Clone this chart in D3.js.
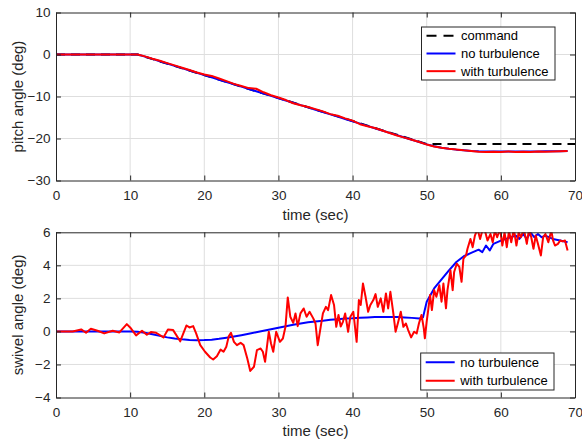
<!DOCTYPE html>
<html>
<head>
<meta charset="utf-8">
<script src="https://cdn.jsdelivr.net/npm/d3@7"></script>
<style>
  body { margin: 0; background: #fff; }
  svg { display: block; font-family: "Liberation Sans", Arial, sans-serif; }
  .axis text { font-size: 13.5px; fill: #262626; }
  .axis path, .axis line { stroke: #262626; }
  .grid line { stroke: #dedede; }
  .label { font-size: 15px; fill: #262626; }
  .legend text { font-size: 13px; fill: #000; }
</style>
</head>
<body>
<svg id="chart" width="582" height="442"></svg>
<script>
// tick labels
const timeTicks = [0, 10, 20, 30, 40, 50, 60, 70];
const pitchTicks = [-30, -20, -10, 0, 10];
const swivelTicks = [-4, -2, 0, 2, 4, 6];

// pitch angle (deg)
const commandTime = [0, 11, 50, 70];
const command = [0, 0, -21.3, -21.3];

const pitchTime = [0, 1, 2, 3, 4, 5, 6, 7, 8, 9, 10, 11, 12, 13, 14, 15, 16, 17, 18, 19,
  20, 21, 22, 23, 24, 25, 26, 27, 28, 29, 30, 31, 32, 33, 34, 35, 36, 37, 38, 39,
  40, 41, 42, 43, 44, 45, 46, 47, 48, 49, 50, 51, 52, 53, 54, 55, 56, 57, 58, 59,
  60, 61, 62, 63, 64, 65, 66, 67, 68, 69];
const pitchNoTurb = [0, 0, 0, 0, 0, 0, 0, 0, 0, 0, 0, 0,
  -0.5, -1.05, -1.6, -2.15, -2.7, -3.25, -3.8, -4.35, -4.9, -5.45, -6.0, -6.55, -7.1,
  -7.65, -8.2, -8.75, -9.3, -9.85, -10.4, -10.95, -11.5, -12.05, -12.6, -13.15, -13.7,
  -14.25, -14.8, -15.35, -15.9, -16.45, -17.0, -17.55, -18.1, -18.65, -19.2, -19.75,
  -20.3, -20.85, -21.4, -21.85, -22.2, -22.45, -22.65, -22.8, -22.95, -23.05, -23.1,
  -23.1, -23.1, -23.1, -23.1, -23.1, -23.1, -23.1, -23.05, -23.05, -23.05, -23.0];
const pitchTurb = [0, 0, 0, 0, 0, 0, 0, 0, 0, 0, 0, 0,
  -0.45, -1.0, -1.5, -2.05, -2.6, -3.15, -3.7, -4.3, -4.75, -5.1, -5.7, -6.35, -7.0,
  -7.5, -8.0, -8.15, -9.0, -9.7, -10.25, -10.85, -11.6, -12.1, -12.5, -13.0, -13.55,
  -14.2, -14.6, -15.2, -15.75, -16.6, -17.1, -17.5, -18.1, -18.7, -19.3, -19.8,
  -20.3, -20.85, -21.45, -21.9, -22.2, -22.45, -22.6, -22.8, -22.95, -23.15, -23.2,
  -23.15, -23.2, -23.1, -23.2, -23.15, -23.2, -23.1, -23.15, -23.1, -23.05, -23.0];

// swivel angle (deg)
const swivelNoTurbTime = [0, 5, 10, 11, 12, 13, 14, 15, 16, 17, 18, 19, 20, 21, 22, 23, 24,
  25, 26, 27, 28, 29, 30, 31, 32, 33, 34, 35, 36, 37, 38, 39, 40, 41, 42, 43, 44, 45,
  46, 47, 48, 49, 49.5, 50, 51, 52, 53, 54, 55, 56, 57, 57.5, 58, 58.5, 59, 60, 61,
  62, 62.5, 63, 63.5, 64, 64.5, 65, 65.5, 66, 67, 68, 69];
const swivelNoTurb = [0, 0, 0, -0.02, -0.08, -0.17, -0.27, -0.36, -0.43, -0.48, -0.52,
  -0.53, -0.52, -0.5, -0.45, -0.38, -0.31, -0.23, -0.14, -0.05, 0.04, 0.13, 0.22, 0.31,
  0.4, 0.48, 0.55, 0.6, 0.65, 0.7, 0.74, 0.78, 0.8, 0.83, 0.85, 0.87, 0.88, 0.88, 0.87,
  0.85, 0.82, 0.78, 0.85, 1.8, 2.6, 3.15, 3.7, 4.2, 4.55, 4.75, 4.95, 4.8, 5.2, 4.9,
  5.3, 5.5, 5.65, 5.8, 5.6, 5.9, 5.6, 6.0, 5.7, 5.9, 5.7, 5.8, 5.6, 5.5, 5.4];

const swivelTurbTime = [0, 1.35, 2.25, 3.4, 4.05, 4.7, 5.6, 6.5, 7.65, 8.55, 9.55, 10,
  10.8, 11.6, 12.25, 12.8, 13.5, 14.5, 15.1, 15.8, 16.75, 17.6, 18, 18.5, 18.9, 19.46,
  20.1, 20.8, 21.2, 21.7, 22.2, 22.6, 22.97, 23.3, 23.6, 24, 24.4, 24.9, 25.3, 25.8,
  26.2, 26.7, 27.1, 27.6, 27.9, 28.2, 28.7, 29, 29.3, 29.7, 30.2, 30.6, 30.95, 31.26,
  31.6, 32, 32.3, 32.6, 32.97, 33.4, 33.8, 34.2, 34.7, 35, 35.3, 35.7, 36, 36.4, 36.7,
  37.1, 37.5, 37.8, 38.1, 38.4, 38.7, 39, 39.4, 39.7, 40.1, 40.55, 40.85, 41.1, 41.4,
  41.75, 42.1, 42.4, 42.8, 43.1, 43.4, 43.8, 44.15, 44.5, 44.8, 45.1, 45.5, 45.8, 46.1,
  46.5, 46.85, 47.2, 47.5, 47.9, 48.3, 48.65, 48.95, 49.3, 49.6, 49.75, 49.99, 50.2,
  50.45, 50.7, 51, 51.3, 51.7, 52, 52.25, 52.6, 52.8, 53.2, 53.5, 53.7, 54.05, 54.4,
  54.7, 54.95, 55.3, 55.5, 55.9, 56.2, 56.5, 56.85, 57.2, 57.5, 57.85, 58.2, 58.6,
  58.9, 59.2, 59.5, 59.9, 60.2, 60.5, 60.8, 61.1, 61.4, 61.75, 62.1, 62.4, 62.7, 63.1,
  63.5, 63.8, 64.1, 64.4, 64.7, 65, 65.4, 65.7, 66, 66.4, 66.8, 67.05, 67.3, 67.7, 68,
  68.3, 68.65, 69];
const swivelTurb = [0, 0, 0, 0.12, -0.08, 0.16, 0.04, -0.12, 0.04, -0.06, 0.44, 0.24,
  -0.24, 0.04, -0.2, -0.04, -0.08, -0.36, 0.12, 0.08, -0.6, 0.36, 0.24, 0.32, -0.12,
  -0.83, -1.23, -1.58, -1.7, -1.5, -1.1, -1.23, -0.93, -0.3, -0.08, -0.63, -0.83, -0.69,
  -0.83, -1.64, -2.39, -2.14, -1.13, -1.03, -1.23, -1.84, -0.02, -0.73, -1.23, -0.02,
  -0.63, -0.43, 0.28, 2.06, 0.89, 0.52, 1.09, 0.32, 1.09, 1.39, 0.89, 1.19, 0.79, 0.48,
  -0.83, 0.28, 1.09, 1.49, 1.29, 2.2, 1.6, 0.28, 1.0, 0.3, 0.58, 1.09, -0.02, 0.89, 1.19,
  -0.63, 1.9, 1.6, 2.9, 2.1, 1.19, 1.6, 1.9, 2.26, 1.49, 2.0, 1.19, 2.3, 1.39, 2.4, 1.09,
  -0.02, 0.48, 1.19, 0.28, 0.48, 0.08, -0.36, -0.02, -0.12, 0.48, 1.0, 0.2, -0.42, 0.58,
  1.29, 2.2, 1.29, 2.5, 2.1, 2.8, 1.8, 2.9, 1.4, 2.5, 3.7, 2.5, 3.6, 4.1, 3.9, 3.0, 4.4,
  4.6, 5.0, 5.6, 5.1, 5.8, 6.2, 5.6, 6.1, 6.1, 5.5, 5.9, 5.4, 6.1, 5.7, 6.2, 5.2, 6.0,
  5.1, 6.1, 5.4, 6.2, 5.2, 6.0, 5.7, 6.2, 5.3, 6.2, 5.7, 5.0, 5.8, 5.3, 4.6, 5.7, 5.9,
  5.4, 6.1, 5.5, 5.2, 5.3, 5.5, 5.45, 5.5, 4.9];

const svg = d3.select("#chart");

const x = d3.scaleLinear().domain([0, 70]).range([56, 575]);
const yTop = d3.scaleLinear().domain([-30, 10]).range([180.5, 12.5]);
const yBot = d3.scaleLinear().domain([-4, 6]).range([397.5, 232.3]);

function drawAxes(y, yTicks, name, ylabel, xlabelY) {
  const [b, t] = y.range();
  const g = svg.append("g");

  g.append("clipPath").attr("id", "clip-" + name)
    .append("rect")
    .attr("x", x(0)).attr("y", t)
    .attr("width", x(70) - x(0)).attr("height", b - t);

  // grid
  const grid = g.append("g").attr("class", "grid");
  grid.selectAll(".gx").data(timeTicks.slice(1, -1)).enter().append("line")
    .attr("x1", d => x(d)).attr("x2", d => x(d))
    .attr("y1", t).attr("y2", b);
  grid.selectAll(".gy").data(yTicks.slice(1, -1)).enter().append("line")
    .attr("x1", x(0)).attr("x2", x(70))
    .attr("y1", d => y(d)).attr("y2", d => y(d));

  const layer = g.append("g").attr("clip-path", "url(#clip-" + name + ")");

  return { g, layer, draw() {
    g.append("g").attr("class", "axis")
      .attr("transform", "translate(0," + b + ")")
      .call(d3.axisBottom(x).tickValues(timeTicks).tickSize(-5).tickPadding(9.5).tickSizeOuter(0));
    g.append("g").attr("class", "axis")
      .attr("transform", "translate(0," + t + ")")
      .call(d3.axisTop(x).tickValues(timeTicks).tickSize(-5).tickFormat("").tickSizeOuter(0));
    g.append("g").attr("class", "axis")
      .attr("transform", "translate(" + x(0) + ",0)")
      .call(d3.axisLeft(y).tickValues(yTicks).tickSize(-5).tickPadding(5.5).tickSizeOuter(0));
    g.append("g").attr("class", "axis")
      .attr("transform", "translate(" + x(70) + ",0)")
      .call(d3.axisRight(y).tickValues(yTicks).tickSize(-5).tickFormat("").tickSizeOuter(0));

    g.append("text").attr("class", "label")
      .attr("text-anchor", "middle")
      .attr("transform", "translate(23," + (t + b) / 2 + ") rotate(-90)")
      .text(ylabel);
    g.append("text").attr("class", "label")
      .attr("text-anchor", "middle")
      .attr("x", (x(0) + x(70)) / 2).attr("y", xlabelY)
      .text("time (sec)");
  }};
}

function addLine(layer, y, ts, vs, color, dash) {
  const line = d3.line().x(d => x(d[0])).y(d => y(d[1]));
  const p = layer.append("path")
    .datum(d3.zip(ts, vs))
    .attr("d", line)
    .attr("fill", "none")
    .attr("stroke", color)
    .attr("stroke-width", 2)
    .attr("stroke-linejoin", "round");
  if (dash) p.attr("stroke-dasharray", dash);
}

function addLegend(left, top, right, bottom, rows) {
  const lg = svg.append("g").attr("class", "legend");
  lg.append("rect")
    .attr("x", left).attr("y", top)
    .attr("width", right - left).attr("height", bottom - top)
    .attr("fill", "#fff").attr("stroke", "#262626").attr("stroke-width", 1);
  const step = (bottom - top) / rows.length;
  rows.forEach((r, i) => {
    const cy = top + step * (i + 0.5);
    const l = lg.append("line")
      .attr("x1", left + 5).attr("x2", left + 34)
      .attr("y1", cy).attr("y2", cy)
      .attr("stroke", r.color).attr("stroke-width", 2);
    if (r.dash) l.attr("stroke-dasharray", r.dash);
    lg.append("text")
      .attr("x", left + 39.5).attr("y", cy).attr("dy", "0.35em")
      .text(r.name);
  });
}

// top plot
const pitchPlot = drawAxes(yTop, pitchTicks, "top", "pitch angle (deg)", 219.5);
addLine(pitchPlot.layer, yTop, commandTime, command, "#000", "9,6");
addLine(pitchPlot.layer, yTop, pitchTime, pitchNoTurb, "#0000ff");
addLine(pitchPlot.layer, yTop, pitchTime, pitchTurb, "#ff0000");
pitchPlot.draw();
addLegend(421.5, 27, 555, 80, [
  { name: "command", color: "#000", dash: "10,7" },
  { name: "no turbulence", color: "#0000ff" },
  { name: "with turbulence", color: "#ff0000" }
]);

// bottom plot
const swivelPlot = drawAxes(yBot, swivelTicks, "bot", "swivel angle (deg)", 436);
addLine(swivelPlot.layer, yBot, swivelNoTurbTime, swivelNoTurb, "#0000ff");
addLine(swivelPlot.layer, yBot, swivelTurbTime, swivelTurb, "#ff0000");
swivelPlot.draw();
addLegend(420.7, 353, 554, 390, [
  { name: "no turbulence", color: "#0000ff" },
  { name: "with turbulence", color: "#ff0000" }
]);
</script>
</body>
</html>
